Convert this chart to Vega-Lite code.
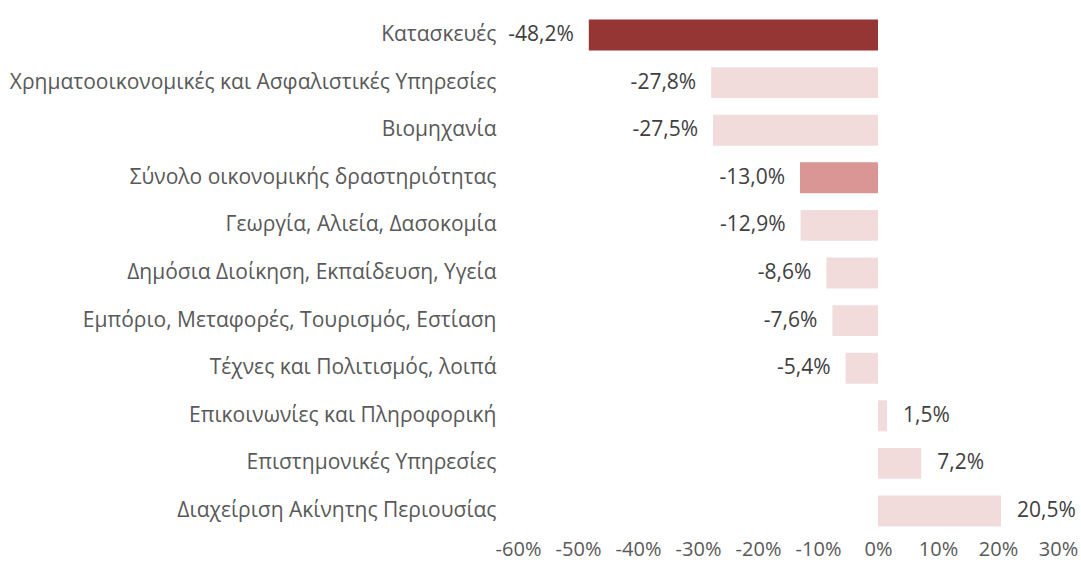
{
  "$schema": "https://vega.github.io/schema/vega-lite/v6.json",
  "autosize": "none",
  "width": 540,
  "height": 524,
  "padding": {"left": 518, "top": 11, "right": 23, "bottom": 39},
  "background": "white",
  "config": {
    "locale": {"number": {"decimal": ",", "thousands": ".", "grouping": [3], "currency": ["", " €"], "minus": "-"}},
    "view": {"stroke": null},
    "font": "Open Sans"
  },
  "data": {
    "values": [
      {"sector": "Κατασκευές", "value": -0.482, "group": "dark"},
      {"sector": "Χρηματοοικονομικές και Ασφαλιστικές Υπηρεσίες", "value": -0.278, "group": "light"},
      {"sector": "Βιομηχανία", "value": -0.275, "group": "light"},
      {"sector": "Σύνολο οικονομικής δραστηριότητας", "value": -0.130, "group": "medium"},
      {"sector": "Γεωργία, Αλιεία, Δασοκομία", "value": -0.129, "group": "light"},
      {"sector": "Δημόσια Διοίκηση, Εκπαίδευση, Υγεία", "value": -0.086, "group": "light"},
      {"sector": "Εμπόριο, Μεταφορές, Τουρισμός, Εστίαση", "value": -0.076, "group": "light"},
      {"sector": "Τέχνες και Πολιτισμός, λοιπά", "value": -0.054, "group": "light"},
      {"sector": "Επικοινωνίες και Πληροφορική", "value": 0.015, "group": "light"},
      {"sector": "Επιστημονικές Υπηρεσίες", "value": 0.072, "group": "light"},
      {"sector": "Διαχείριση Ακίνητης Περιουσίας", "value": 0.205, "group": "light"}
    ]
  },
  "encoding": {
    "y": {
      "field": "sector", "type": "nominal", "sort": null, "title": null,
      "scale": {"paddingInner": 0.35, "paddingOuter": 0.18},
      "axis": {"domain": false, "ticks": false, "labelFontSize": 21, "labelColor": "#595959", "labelPadding": 22, "labelLimit": 520}
    }
  },
  "layer": [
    {
      "mark": {"type": "bar"},
      "encoding": {
        "x": {
          "field": "value", "type": "quantitative", "title": null,
          "scale": {"domain": [-0.6, 0.3], "nice": false},
          "axis": {"format": ".0%", "values": [-0.6, -0.5, -0.4, -0.3, -0.2, -0.1, 0, 0.1, 0.2, 0.3], "grid": false, "domain": false, "ticks": false, "labelFontSize": 20, "labelColor": "#595959", "labelPadding": 4, "labelFlush": false}
        },
        "color": {
          "field": "group", "type": "nominal", "legend": null,
          "scale": {"domain": ["dark", "medium", "light"], "range": ["#963634", "#DA9694", "#F2DCDB"]}
        }
      }
    },
    {
      "mark": {"type": "rule", "color": "#D9D9D9", "strokeWidth": 2, "y": 0, "y2": "height"},
      "encoding": {"x": {"datum": 0, "type": "quantitative"}}
    },
    {
      "transform": [{"filter": "datum.value < 0"}],
      "mark": {"type": "text", "align": "right", "dx": -15, "fontSize": 21, "color": "#404040"},
      "encoding": {
        "x": {"field": "value", "type": "quantitative"},
        "text": {"field": "value", "type": "quantitative", "format": ".1%"}
      }
    },
    {
      "transform": [{"filter": "datum.value >= 0"}],
      "mark": {"type": "text", "align": "left", "dx": 16, "fontSize": 21, "color": "#404040"},
      "encoding": {
        "x": {"field": "value", "type": "quantitative"},
        "text": {"field": "value", "type": "quantitative", "format": ".1%"}
      }
    }
  ]
}
